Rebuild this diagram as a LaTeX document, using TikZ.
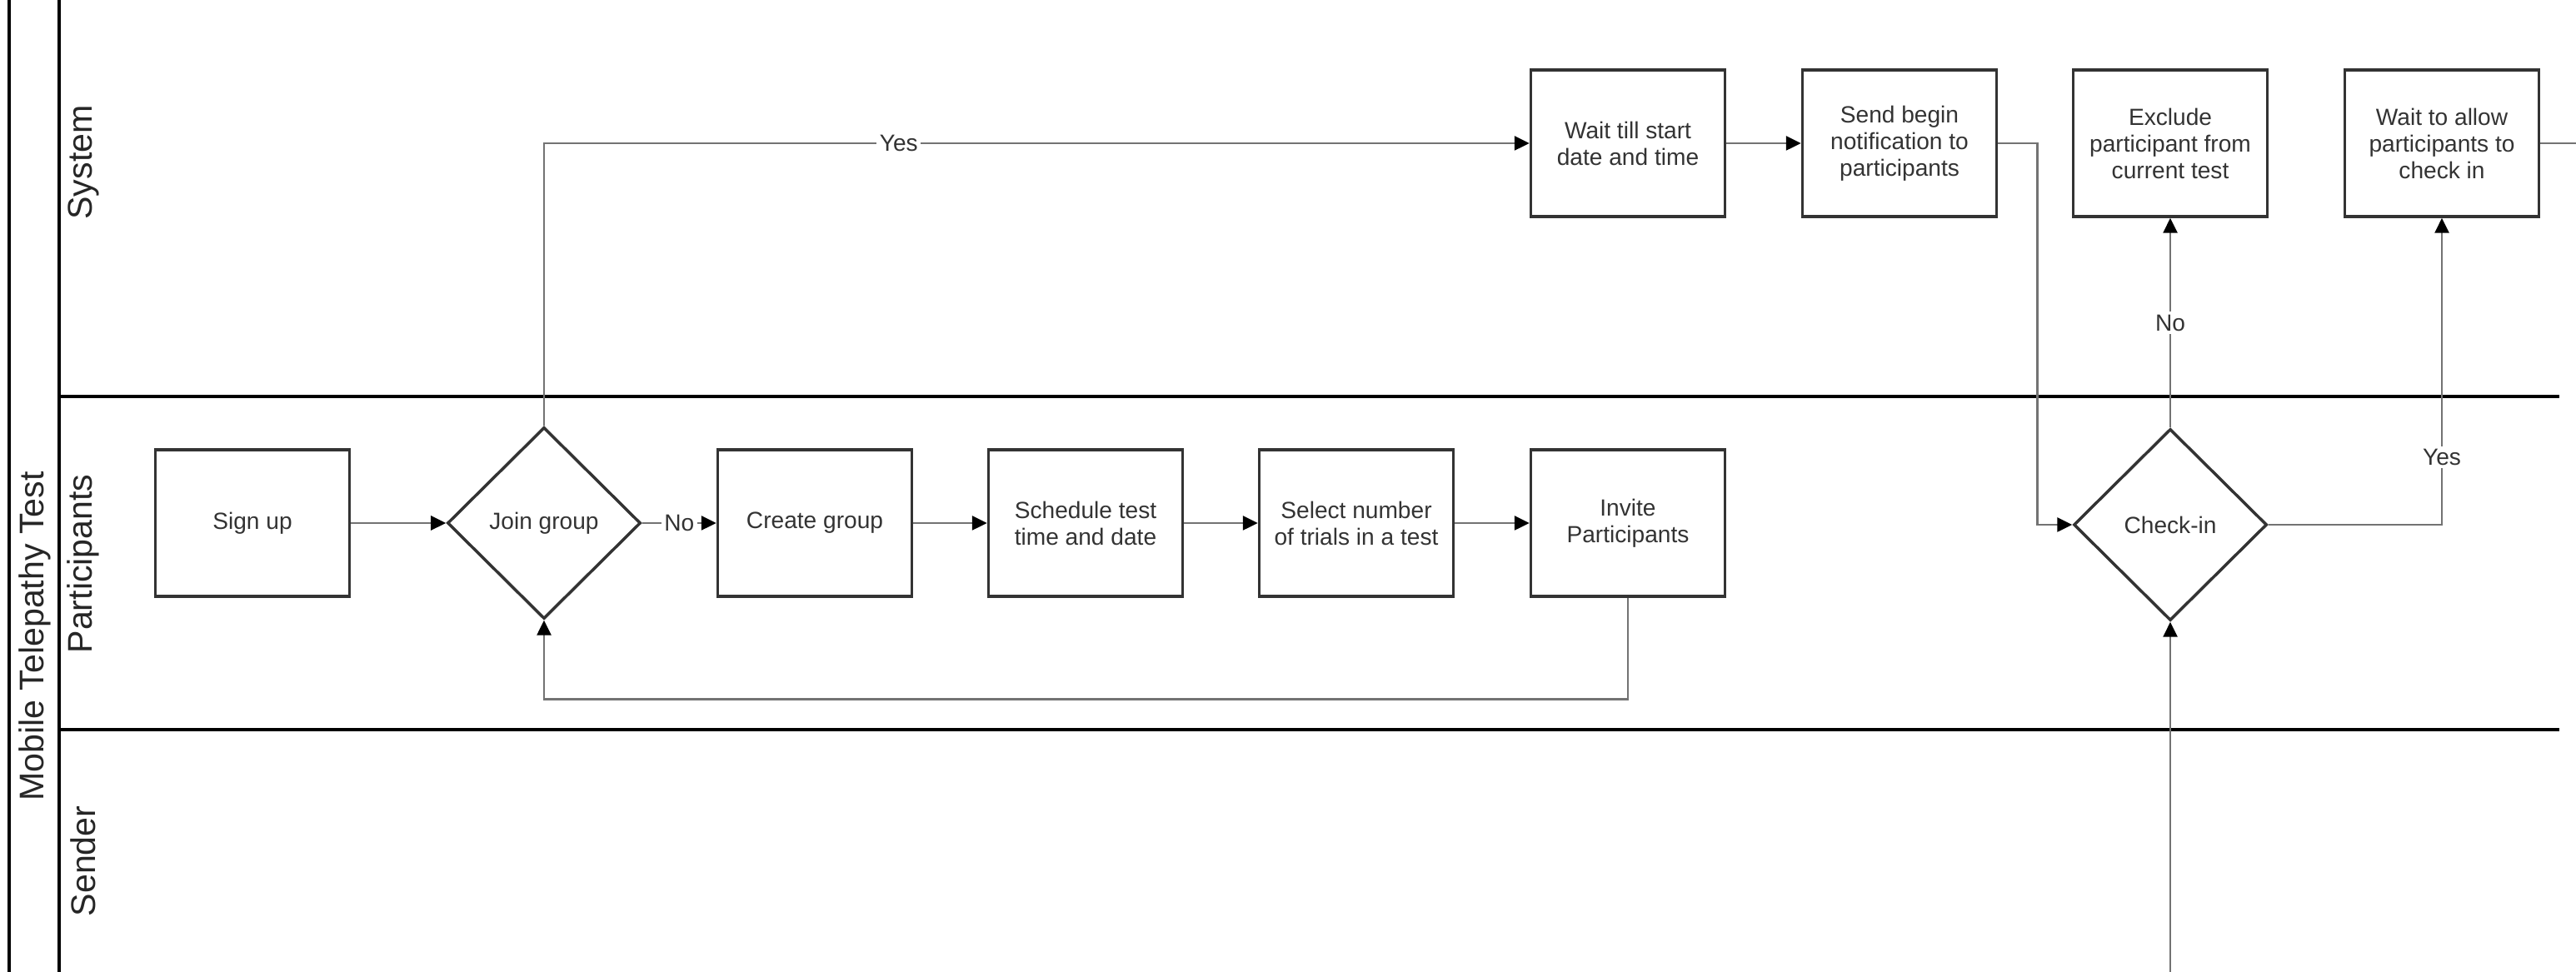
\documentclass[tikz,border=0pt]{standalone}
\usepackage{fontspec}
\setmainfont{Liberation Sans}
\usetikzlibrary{arrows.meta,shapes.geometric}

\begin{document}
\begin{tikzpicture}[>={Triangle[length=0.18cm,width=0.17cm,color=black]},
  box/.style={draw=black!80,line width=1pt,minimum width=2.33cm,minimum height=1.76cm,inner sep=0pt,align=center,text=black!80,font=\fontsize{8}{9.1}\selectfont},
  decision/.style={diamond,draw=black!80,line width=1pt,minimum width=2.32cm,minimum height=2.3cm,inner sep=0pt,text=black!80,font=\fontsize{8}{9.1}\selectfont},
  flow/.style={draw=black!55,line width=0.75pt},
  tag/.style={fill=white,inner sep=1pt,text=black!80,font=\fontsize{8}{9.1}\selectfont},
  lane/.style={rotate=90,text=black!85,font=\fontsize{11.7}{14}\selectfont}]
\useasboundingbox (0,0) rectangle (30.92,11.67);
\draw [line width=1.2pt] (0.11,0) -- (0.11,11.67);
\draw [line width=1.2pt] (0.71,0) -- (0.71,11.67);
\draw [line width=1.3pt] (0.71,6.91) -- (30.72,6.91);
\draw [line width=1.3pt] (0.71,2.91) -- (30.72,2.91);
\node[lane] (pool) at (0.42,4.03) {Mobile Telepathy Test};
\node[lane] (system) at (1.00,9.72) {System};
\node[lane] (participants) at (1.00,4.90) {Participants};
\node[lane] (sender) at (1.00,1.33) {Sender};
\node[box] (signup) at (3.03,5.39) {Sign up};
\node[decision] (join) at (6.53,5.39) {Join group};
\node[box] (create) at (9.78,5.39) {Create group};
\node[box] (schedule) at (13.03,5.39) {Schedule test\\time and date};
\node[box] (select) at (16.28,5.39) {Select number\\of trials in a test};
\node[box] (invite) at (19.54,5.39) {Invite\\Participants};
\node[box] (waitstart) at (19.54,9.95) {Wait till start\\date and time};
\node[box] (sendbegin) at (22.80,9.95) {Send begin\\notification to\\participants};
\node[box] (exclude) at (26.05,9.95) {Exclude\\participant from\\current test};
\node[box] (waitallow) at (29.31,9.95) {Wait to allow\\participants to\\check in};
\node[decision] (checkin) at (26.05,5.37) {Check-in};
\coordinate (fromsender) at (26.05,0);
\coordinate (onward) at (30.92,9.95);
\draw[flow,->] (signup) -- (join);
\draw[flow,->] (join) -- node[tag] {No} (create);
\draw[flow,->] (create) -- (schedule);
\draw[flow,->] (schedule) -- (select);
\draw[flow,->] (select) -- (invite);
\draw[flow,->] (invite.south) -- ++(0,-1.22) -| (join.south);
\draw[flow,->] (join.north) |- node[tag,pos=0.68] {Yes} (waitstart.west);
\draw[flow,->] (waitstart) -- (sendbegin);
\draw[flow,->] (sendbegin.east) -- ++(0.47,0) |- (checkin.west);
\draw[flow,->] (checkin.north) -- node[tag] {No} (exclude.south);
\draw[flow,->] (checkin.east) -| node[tag,pos=0.61] {Yes} (waitallow.south);
\draw[flow,->] (fromsender) -- (checkin.south);
\draw[flow] (waitallow.east) -- (onward);
\end{tikzpicture}
\end{document}
